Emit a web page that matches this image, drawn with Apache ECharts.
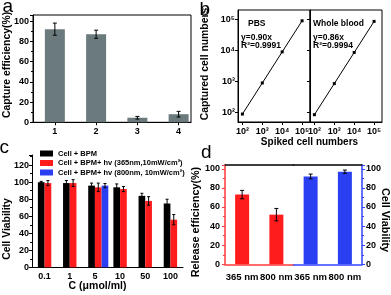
<!DOCTYPE html>
<html><head><meta charset="utf-8">
<script src="https://cdn.jsdelivr.net/npm/echarts@6/dist/echarts.min.js"></script>
<style>html,body{margin:0;padding:0;background:#fff}#c{width:391px;height:295px}</style>
</head><body><div id="c"></div>
<script>
// ---- panel a ----
const aCategories = ['1', '2', '3', '4'];
const aValues = [92, 87, 4.5, 8];
const aErrors = [6, 4, 1.3, 2.8];
const aYTicks = [0, 20, 40, 60, 80, 100];
// ---- panel b ----
const bSpiked = [100, 1000, 10000, 100000];
const bPBS = [90, 900, 9000, 90000];
const bBlood = [86, 860, 8600, 86000];
const bTickValues = [100, 1000, 10000, 100000];
const bTickLabels = ['10²', '10³', '10⁴', '10⁵'];
// ---- panel c ----
const cCategories = ['0.1', '1', '5', '10', '50', '100'];
const cNames = ['Cell + BPM', 'Cell + BPM+ hv (365nm,10mW/cm²)', 'Cell + BPM+ hv (800nm, 10mW/cm²)'];
const cBPM = [100, 99, 96, 94, 84, 75];
const cBPMErr = [1, 3, 3, 4, 3, 5];
const c365 = [99, 99, 94, 92, 78, 56];
const c365Err = [3, 4, 5, 3, 5, 6];
const c800 = ['-', '-', 96, '-', '-', '-'];
const c800Err = [0, 0, 2.5, 0, 0, 0];
// ---- panel d ----
const dCategories = ['365 nm', '800 nm'];
const dRelease = [73, 52];
const dReleaseErr = [4.4, 6.5];
const dViability = [92, 97];
const dViabilityErr = [2.5, 1.7];

const FONT = '"Liberation Sans", Arial, sans-serif';
const RED = '#ff1c1c', BLUE = '#2b3ff2', GREY = '#6b7b7d';
const lbl = (extra) => Object.assign({color: '#000', fontFamily: FONT, fontWeight: 'bold', fontSize: 9}, extra || {});

function errSeries(xi, yi, xs, vals, errs, offset, cap) {
  const data = [];
  vals.forEach((v, i) => { if (v !== '-' && v != null) data.push([xs[i], v, errs[i]]); });
  return {
    type: 'custom', xAxisIndex: xi, yAxisIndex: yi, z: 10, silent: true,
    encode: {x: 0, y: 1},
    data: data,
    renderItem: function (params, api) {
      const x = api.value(0), v = api.value(1), e = api.value(2);
      const hi = api.coord([x, v + e]), lo = api.coord([x, v - e]);
      const cx = hi[0] + offset;
      const st = {stroke: '#000', lineWidth: 1};
      return {type: 'group', children: [
        {type: 'line', shape: {x1: cx, y1: hi[1], x2: cx, y2: lo[1]}, style: st},
        {type: 'line', shape: {x1: cx - cap / 2, y1: hi[1], x2: cx + cap / 2, y2: hi[1]}, style: st},
        {type: 'line', shape: {x1: cx - cap / 2, y1: lo[1], x2: cx + cap / 2, y2: lo[1]}, style: st}
      ]};
    }
  };
}

const logFmt = v => { const i = bTickValues.findIndex(t => Math.abs(t - v) / t < 1e-6); return i >= 0 ? bTickLabels[i] : ''; };
const CW = 6.7;

const frame = {show: true, borderColor: '#000', borderWidth: 1, backgroundColor: 'transparent'};
const logX = (gi) => ({gridIndex: gi, type: 'log', min: 60, max: 250000, splitLine: {show: false},
  axisLine: {lineStyle: {color: '#000'}},
  axisTick: {customValues: bTickValues, length: 3, lineStyle: {color: '#000'}},
  axisLabel: lbl({customValues: bTickValues, margin: 5, formatter: logFmt})});
const option = {
  animation: false,
  backgroundColor: '#fff',
  textStyle: {fontFamily: FONT},
  grid: [
    Object.assign({left: 33, top: 15, width: 158, height: 107.3}, frame),
    Object.assign({left: 238, top: 10, width: 72, height: 112}, frame),
    Object.assign({left: 310, top: 10, width: 72, height: 112}, frame),
    {left: 32, top: 155, width: 151, height: 112.3},
    {left: 225, top: 165, width: 68.5, height: 99.3},
    {left: 293.5, top: 165, width: 68.5, height: 99.3}
  ],
  xAxis: [
    {gridIndex: 0, type: 'value', min: 0.47, max: 4.3, splitLine: {show: false},
      axisLine: {lineStyle: {color: '#000'}},
      axisTick: {customValues: [1, 2, 3, 4], length: 3, lineStyle: {color: '#000'}},
      axisLabel: lbl({customValues: [1, 2, 3, 4], margin: 5, formatter: v => aCategories[Math.round(v) - 1] || ''})},
    logX(1),
    logX(2),
    {gridIndex: 3, type: 'category', data: cCategories,
      axisLine: {lineStyle: {color: '#000'}}, axisTick: {length: 3, lineStyle: {color: '#000'}},
      axisLabel: lbl({margin: 5, interval: 0})},
    {gridIndex: 4, type: 'category', data: dCategories, position: 'bottom',
      axisLine: {lineStyle: {color: '#ff3a3a', width: 1.5}}, axisTick: {alignWithLabel: true, length: 3, lineStyle: {color: '#000'}},
      axisLabel: lbl({margin: 8, fontSize: 9.5, interval: 0, hideOverlap: false})},
    {gridIndex: 4, type: 'category', data: dCategories, position: 'top',
      axisLine: {lineStyle: {color: '#000', width: 1.5}}, axisTick: {show: false}, axisLabel: {show: false}},
    {gridIndex: 5, type: 'category', data: dCategories, position: 'bottom',
      axisLine: {lineStyle: {color: '#3344ff', width: 1.5}}, axisTick: {alignWithLabel: true, length: 3, lineStyle: {color: '#000'}},
      axisLabel: lbl({margin: 8, fontSize: 9.5, interval: 0, hideOverlap: false})},
    {gridIndex: 5, type: 'category', data: dCategories, position: 'top',
      axisLine: {lineStyle: {color: '#000', width: 1.5}}, axisTick: {show: false}, axisLabel: {show: false}}
  ],
  yAxis: [
    {gridIndex: 0, type: 'value', min: 0, max: 106, interval: 20, splitLine: {show: false},
      axisLine: {show: true, lineStyle: {color: '#000'}}, axisTick: {show: true, length: 3, lineStyle: {color: '#000'}},
      minorTick: {show: true, splitNumber: 2, length: 2, lineStyle: {color: '#000'}},
      axisLabel: lbl({margin: 4, showMaxLabel: false, formatter: v => aYTicks.indexOf(v) >= 0 ? String(v) : ''})},
    {gridIndex: 1, type: 'log', min: 50, max: 200000, splitLine: {show: false},
      axisLine: {show: true, lineStyle: {color: '#000'}},
      axisTick: {show: true, customValues: bTickValues, length: 3, lineStyle: {color: '#000'}},
      axisLabel: lbl({customValues: bTickValues, margin: 3, formatter: logFmt})},
    {gridIndex: 2, type: 'log', min: 50, max: 200000, splitLine: {show: false},
      axisLine: {show: true, lineStyle: {color: '#000'}},
      axisTick: {show: true, customValues: bTickValues, length: 3, lineStyle: {color: '#000'}},
      axisLabel: {show: false}},
    {gridIndex: 3, type: 'value', min: 0, max: 132, interval: 20, splitLine: {show: false},
      axisLine: {show: true, lineStyle: {color: '#000'}}, axisTick: {show: true, length: 3, lineStyle: {color: '#000'}},
      minorTick: {show: true, splitNumber: 2, length: 2, lineStyle: {color: '#000'}},
      axisLabel: lbl({margin: 3, showMaxLabel: false, formatter: v => (v % 20 === 0 && v <= 120) ? String(v) : ''})},
    {gridIndex: 4, type: 'value', min: 0, max: 104, interval: 20, position: 'left', splitLine: {show: false},
      axisLine: {show: true, lineStyle: {color: '#ff3a3a', width: 1.5}}, axisTick: {show: true, length: 3, lineStyle: {color: '#ff3a3a'}},
      minorTick: {show: true, splitNumber: 2, length: 2, lineStyle: {color: '#ff3a3a'}},
      axisLabel: lbl({margin: 5, showMaxLabel: false, formatter: v => (v % 20 === 0 && v <= 100) ? String(v) : ''})},
    {gridIndex: 5, type: 'value', min: 0, max: 104, interval: 20, position: 'right', splitLine: {show: false},
      axisLine: {show: true, lineStyle: {color: '#3344ff', width: 1.5}}, axisTick: {show: true, length: 3, lineStyle: {color: '#3344ff'}},
      minorTick: {show: true, splitNumber: 2, length: 2, lineStyle: {color: '#3344ff'}},
      axisLabel: lbl({margin: 4, showMaxLabel: false, formatter: v => (v % 20 === 0 && v <= 100) ? String(v) : ''})}
  ],
  legend: {
    data: cNames, orient: 'vertical', left: 40, top: 149, itemWidth: 13, itemHeight: 6, itemGap: 0.5,
    icon: 'rect', padding: 0,
    textStyle: {color: '#000', fontFamily: FONT, fontWeight: 'bold', fontSize: 7.5, lineHeight: 9}
  },
  series: [
    {type: 'bar', xAxisIndex: 0, yAxisIndex: 0, barWidth: 20, itemStyle: {color: GREY},
      data: aValues.map((v, i) => [i + 1, v])},
    errSeries(0, 0, aValues.map((v, i) => i + 1), aValues, aErrors, 0, 4),
    {type: 'line', xAxisIndex: 1, yAxisIndex: 1, symbol: 'rect', symbolSize: 3,
      itemStyle: {color: '#000'}, lineStyle: {color: '#000', width: 1},
      data: bSpiked.map((x, i) => [x, bPBS[i]])},
    {type: 'line', xAxisIndex: 2, yAxisIndex: 2, symbol: 'rect', symbolSize: 3,
      itemStyle: {color: '#000'}, lineStyle: {color: '#000', width: 1},
      data: bSpiked.map((x, i) => [x, bBlood[i]])},
    {type: 'bar', name: 'spacer', xAxisIndex: 3, yAxisIndex: 3, barWidth: CW, barGap: 0,
      data: cCategories.map(() => '-')},
    {type: 'bar', name: cNames[0], xAxisIndex: 3, yAxisIndex: 3, barWidth: CW, barGap: 0,
      itemStyle: {color: '#000'}, data: cBPM},
    {type: 'bar', name: cNames[1], xAxisIndex: 3, yAxisIndex: 3, barWidth: CW, barGap: 0,
      itemStyle: {color: RED}, data: c365},
    {type: 'bar', name: cNames[2], xAxisIndex: 3, yAxisIndex: 3, barWidth: CW, barGap: 0,
      itemStyle: {color: BLUE}, data: c800},
    errSeries(3, 3, cCategories.map((c, i) => i), cBPM, cBPMErr, -CW / 2, 3),
    errSeries(3, 3, cCategories.map((c, i) => i), c365, c365Err, CW / 2, 3),
    errSeries(3, 3, cCategories.map((c, i) => i), c800, c800Err, CW * 1.5, 3),
    {type: 'bar', xAxisIndex: 4, yAxisIndex: 4, barWidth: 14, itemStyle: {color: RED}, data: dRelease},
    {type: 'bar', xAxisIndex: 6, yAxisIndex: 5, barWidth: 14, itemStyle: {color: BLUE}, data: dViability},
    errSeries(4, 4, [0, 1], dRelease, dReleaseErr, 0, 4),
    errSeries(6, 5, [0, 1], dViability, dViabilityErr, 0, 4)
  ],
  graphic: [
    {type: 'text', left: 2.5, top: -3, style: {text: 'a', font: '19px ' + FONT, fill: '#000'}},
    {type: 'text', left: 199.5, top: 0, style: {text: 'b', font: '19px ' + FONT, fill: '#000'}},
    {type: 'text', left: -0.5, top: 138, style: {text: 'c', font: '19px ' + FONT, fill: '#000'}},
    {type: 'text', left: 201, top: 143, style: {text: 'd', font: '19px ' + FONT, fill: '#000'}},
    {type: 'text', x: 7, y: 65, rotation: Math.PI / 2, style: {text: 'Capture efficiency(%)', font: 'bold 10.4px ' + FONT, fill: '#000', textAlign: 'center', textVerticalAlign: 'middle'}},
    {type: 'text', x: 205, y: 64, rotation: Math.PI / 2, style: {text: 'Captured cell numbers', font: 'bold 10.4px ' + FONT, fill: '#000', textAlign: 'center', textVerticalAlign: 'middle'}},
    {type: 'text', x: 309.5, y: 142, style: {text: 'Spiked cell numbers', font: 'bold 10px ' + FONT, fill: '#000', textAlign: 'center', textVerticalAlign: 'middle'}},
    {type: 'text', x: 7, y: 229, rotation: Math.PI / 2, style: {text: 'Cell Viability', font: 'bold 10.4px ' + FONT, fill: '#000', textAlign: 'center', textVerticalAlign: 'middle'}},
    {type: 'text', x: 97.5, y: 285.7, style: {text: 'C (μmol/ml)', font: 'bold 10.5px ' + FONT, fill: '#000', textAlign: 'center', textVerticalAlign: 'middle'}},
    {type: 'text', x: 196, y: 222, rotation: Math.PI / 2, style: {text: 'Release efficiency(%)', font: 'bold 10.8px ' + FONT, fill: '#000', textAlign: 'center', textVerticalAlign: 'middle'}},
    {type: 'text', x: 385, y: 220, rotation: -Math.PI / 2, style: {text: 'Cell Viability', font: 'bold 10.8px ' + FONT, fill: '#000', textAlign: 'center', textVerticalAlign: 'middle'}},
    {type: 'text', x: 248, y: 23.5, style: {text: 'PBS', font: 'bold 8.5px ' + FONT, fill: '#000', textVerticalAlign: 'middle'}},
    {type: 'text', x: 241, y: 38, style: {text: 'y=0.90x', font: 'bold 8.5px ' + FONT, fill: '#000', textVerticalAlign: 'middle'}},
    {type: 'text', x: 241, y: 45.5, style: {text: 'R²=0.9991', font: 'bold 8.5px ' + FONT, fill: '#000', textVerticalAlign: 'middle'}},
    {type: 'text', x: 313, y: 23.5, style: {text: 'Whole blood', font: 'bold 8.5px ' + FONT, fill: '#000', textVerticalAlign: 'middle'}},
    {type: 'text', x: 313, y: 38, style: {text: 'y=0.86x', font: 'bold 8.5px ' + FONT, fill: '#000', textVerticalAlign: 'middle'}},
    {type: 'text', x: 313, y: 45.5, style: {text: 'R²=0.9994', font: 'bold 8.5px ' + FONT, fill: '#000', textVerticalAlign: 'middle'}}
  ]
};
const chart = echarts.init(document.getElementById('c'), null, {renderer: 'canvas'});
chart.setOption(option);
</script></body></html>
